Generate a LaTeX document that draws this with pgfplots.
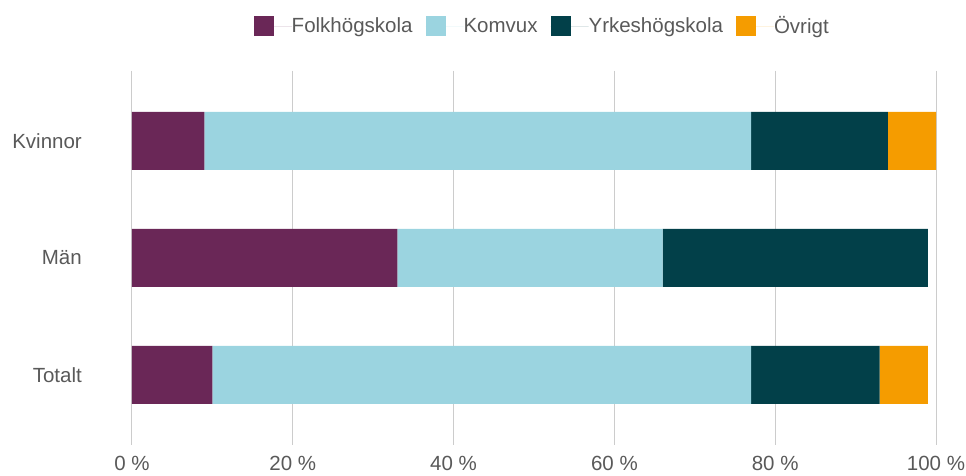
\documentclass[border=0pt]{standalone}
\usepackage{fontspec}
\setmainfont{Liberation Sans}
\usepackage{pgfplots}
\pgfplotsset{compat=1.18}
\definecolor{folk}{HTML}{6A2757}
\definecolor{komvux}{HTML}{9BD4E0}
\definecolor{yrkes}{HTML}{024049}
\definecolor{ovrigt}{HTML}{F59C00}
\definecolor{textgray}{HTML}{595959}
\definecolor{gridgray}{HTML}{CCCCCC}
\begin{document}
\begin{tikzpicture}
\path[use as bounding box] (-132bp,-31bp) rectangle (834bp,445bp);
\begin{axis}[
  at={(0,0)}, anchor=south west,
  scale only axis, width=804bp, height=374.3bp,
  xbar stacked, bar width=58bp,
  xmin=0, xmax=100, ymin=-0.6, ymax=2.6, y dir=reverse,
  ytick={0,1,2}, yticklabels={Kvinnor,Män,Totalt},
  xtick={0,20,40,60,80,100},
  xticklabel={\pgfmathprintnumber[assume math mode=true]{\tick}\ \%},
  major tick length=0pt,
  axis line style={draw=none},
  xmajorgrids, grid style={color=gridgray, line width=1bp},
  tick label style={font=\fontsize{20.5bp}{24bp}\selectfont, text=textgray, inner sep=0pt},
  xticklabel style={yshift=-11bp},
  yticklabel style={xshift=-50bp},
  legend columns=4,
  legend style={at={(0.509,1.119)}, anchor=center, draw=none, fill=none,
    font=\fontsize{20.5bp}{24bp}\selectfont, text=textgray,
    inner sep=0pt, nodes={inner sep=0pt},
    /tikz/every even column/.append style={column sep=13bp}},
  legend image code/.code={\fill[#1] (0bp,-10bp) rectangle (20bp,10bp); \path (0bp,0bp) -- (38bp,0bp);},
]
\addplot[fill=folk, draw=none] coordinates {(9,0) (33,1) (10,2)};
\addplot[fill=komvux, draw=none] coordinates {(68,0) (33,1) (67,2)};
\addplot[fill=yrkes, draw=none] coordinates {(17,0) (33,1) (16,2)};
\addplot[fill=ovrigt, draw=none] coordinates {(6,0) (0,1) (6,2)};
\legend{Folkhögskola,Komvux,Yrkeshögskola,Övrigt}
\end{axis}
\end{tikzpicture}
\end{document}
